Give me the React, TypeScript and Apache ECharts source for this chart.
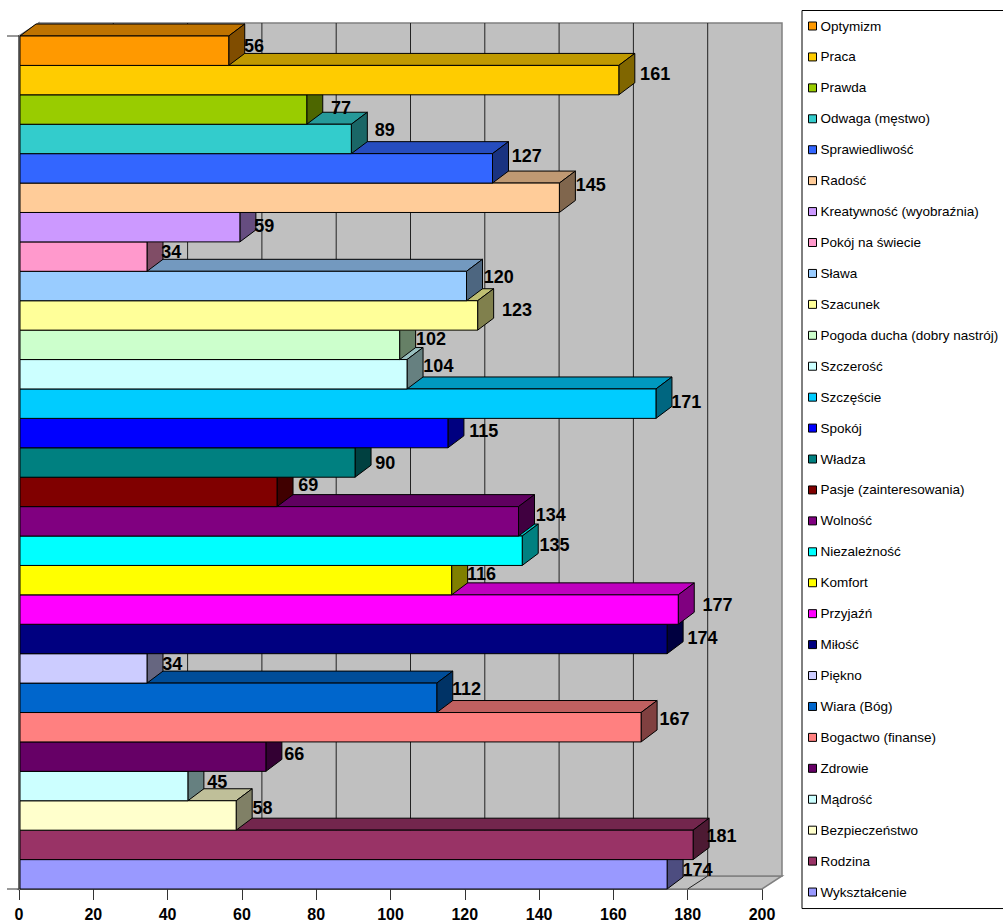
import React, { useEffect, useRef } from "react";
import * as echarts from "echarts";

const categories = [
  "Optymizm", "Praca", "Prawda", "Odwaga (męstwo)", "Sprawiedliwość", "Radość",
  "Kreatywność (wyobraźnia)", "Pokój na świecie", "Sława", "Szacunek",
  "Pogoda ducha (dobry nastrój)", "Szczerość", "Szczęście", "Spokój", "Władza",
  "Pasje (zainteresowania)", "Wolność", "Niezależność", "Komfort", "Przyjaźń",
  "Miłość", "Piękno", "Wiara (Bóg)", "Bogactwo (finanse)", "Zdrowie", "Mądrość",
  "Bezpieczeństwo", "Rodzina", "Wykształcenie",
];
const values = [
  56, 161, 77, 89, 127, 145, 59, 34, 120, 123, 102, 104, 171, 115, 90, 69, 134,
  135, 116, 177, 174, 34, 112, 167, 66, 45, 58, 181, 174,
];
const colors = [
  "#FF9900", "#FFCC00", "#99CC00", "#33CCCC", "#3366FF", "#FFCC99", "#CC99FF",
  "#FF99CC", "#99CCFF", "#FFFF99", "#CCFFCC", "#CCFFFF", "#00CCFF", "#0000FF",
  "#008080", "#800000", "#800080", "#00FFFF", "#FFFF00", "#FF00FF", "#000080",
  "#CCCCFF", "#0066CC", "#FF8080", "#660066", "#CCFFFF", "#FFFFCC", "#993366",
  "#9999FF",
];
const xTicks = [0, 20, 40, 60, 80, 100, 120, 140, 160, 180, 200];

// Placement of each value label relative to the end of its bar (pixels).
const labelDx = [16, 22, 25, 24, 20, 17, 15, 15, 18, 25, 17, 17, 16, 22, 21, 22, 18, 18, 16, 25, 21, 16, 16, 19, 19, 20, 17, 14, 16];
const labelDy = [-5, -7, -2, -9, -13, -13, -2, -5, -10, -6, -6, -9, -2, -3, 0, -7, -7, -6, -7, -5, -1, -5, -9, -9, -3, -5, -8, -9, -5];

const BAR_DX = 16;
const BAR_DY = 12;
const WALL_DX = 20;
const WALL_DY = 13;

function shade(hex: string, f: number) {
  const n = parseInt(hex.slice(1), 16);
  const r = Math.round(((n >> 16) & 255) * f);
  const g = Math.round(((n >> 8) & 255) * f);
  const b = Math.round((n & 255) * f);
  return `rgb(${r},${g},${b})`;
}

const edge = { stroke: "#000", lineWidth: 1 };

function renderBar(color: string) {
  return (_p: any, api: any) => {
    const idx = api.value(1);
    const end = api.coord([api.value(0), idx]);
    const start = api.coord([0, idx]);
    const h = api.size([0, 1])[1];
    const x0 = start[0] + 1;
    const xe = end[0] + 1.7;
    const yt = end[1] - h / 2;
    const yb = end[1] + h / 2;
    return {
      type: "group",
      silent: true,
      children: [
        {
          type: "polygon",
          shape: { points: [[x0, yt], [x0 + BAR_DX, yt - BAR_DY], [xe + BAR_DX, yt - BAR_DY], [xe, yt]] },
          style: { fill: shade(color, 0.75), ...edge },
        },
        {
          type: "polygon",
          shape: { points: [[xe, yt], [xe + BAR_DX, yt - BAR_DY], [xe + BAR_DX, yb - BAR_DY], [xe, yb]] },
          style: { fill: shade(color, 0.5), ...edge },
        },
        {
          type: "rect",
          shape: { x: x0, y: yt, width: xe - x0, height: yb - yt },
          style: { fill: color, ...edge },
        },
      ],
    };
  };
}

function renderWall(_p: any, api: any) {
  const n = categories.length;
  const h = api.size([0, 1])[1];
  const left = api.coord([0, 0])[0];
  const right = api.coord([200, 0])[0];
  const top = api.coord([0, 0])[1] - h / 2;
  const bottom = api.coord([0, n - 1])[1] + h / 2;
  const wall = { fill: "#C0C0C0", stroke: "#808080", lineWidth: 1.5 };
  const children: any[] = [
    {
      type: "polygon",
      shape: { points: [[left, top], [left + WALL_DX, top - WALL_DY], [left + WALL_DX, bottom - WALL_DY], [left, bottom]] },
      style: wall,
    },
    {
      type: "polygon",
      shape: { points: [[left, bottom], [left + WALL_DX, bottom - WALL_DY], [right + WALL_DX, bottom - WALL_DY], [right, bottom]] },
      style: wall,
    },
    {
      type: "rect",
      shape: { x: left + WALL_DX, y: top - WALL_DY, width: right - left, height: bottom - top },
      style: wall,
    },
  ];
  xTicks.slice(1, -1).forEach((t) => {
    const x = api.coord([t, 0])[0];
    children.push({
      type: "polyline",
      shape: { points: [[x + WALL_DX, top - WALL_DY], [x + WALL_DX, bottom - WALL_DY], [x, bottom]] },
      style: { fill: "none", stroke: "#222", lineWidth: 1 },
    });
  });
  [top, bottom].forEach((y) => {
    children.push({
      type: "line",
      shape: { x1: left - 12, y1: y, x2: left, y2: y },
      style: { stroke: "#333", lineWidth: 1 },
    });
  });
  return { type: "group", silent: true, children };
}

function renderLabel(_p: any, api: any) {
  const idx = api.value(1);
  const v = api.value(0);
  const c = api.coord([v, idx]);
  return {
    type: "text",
    silent: true,
    x: c[0] + labelDx[idx] + 1,
    y: c[1] + labelDy[idx] + 0.5,
    style: {
      text: String(v),
      fill: "#000",
      font: "bold 18px 'Liberation Sans', Arial, sans-serif",
      align: "left",
      verticalAlign: "middle",
    },
  };
}

export default function App() {
  const ref = useRef<HTMLDivElement>(null);
  useEffect(() => {
    const chart = echarts.init(ref.current!, undefined, { renderer: "svg" });
    const barSeries = categories
      .map((name, i) => ({
        type: "custom",
        name,
        silent: true,
        clip: false,
        renderItem: renderBar(colors[i]),
        itemStyle: { color: colors[i] },
        data: [[values[i], i]],
      }))
      .reverse();
    chart.setOption({
      animation: false,
      backgroundColor: "#fff",
      grid: { left: 19, top: 36, width: 743, height: 853, containLabel: false, outerBoundsMode: "none" },
      xAxis: {
        type: "value",
        min: 0,
        max: 200,
        interval: 20,
        position: "bottom",
        axisLine: { show: true, onZero: false, lineStyle: { color: "#333", width: 1.5 } },
        axisTick: { show: true, length: 11, lineStyle: { color: "#333", width: 1 } },
        splitLine: { show: false },
        axisLabel: {
          color: "#000",
          fontFamily: "'Liberation Sans', Arial, sans-serif",
          fontWeight: "bold",
          fontSize: 16,
          lineHeight: 12,
          margin: 19,
          hideOverlap: false,
        },
      },
      yAxis: {
        type: "category",
        inverse: true,
        data: categories,
        axisLine: { show: true, onZero: false, lineStyle: { color: "#333", width: 2 } },
        axisTick: { show: false },
        axisLabel: { show: false },
        splitLine: { show: false },
      },
      legend: {
        orient: "vertical",
        left: 802,
        top: 10.5,
        padding: [8.5, 30, 9.5, 6],
        itemWidth: 8,
        itemHeight: 8,
        itemGap: 16.93,
        align: "left",
        selectedMode: false,
        backgroundColor: "#fff",
        borderColor: "#000",
        borderWidth: 1,
        textStyle: {
          color: "#000",
          fontSize: 13.5,
          lineHeight: 14,
          fontFamily: "'Liberation Sans', Arial, sans-serif",
          padding: [0, 0, 0, -1],
        },
        data: categories.map((name, i) => ({
          name,
          icon: "rect",
          itemStyle: { color: colors[i], borderColor: "#000", borderWidth: 1 },
        })),
      },
      series: [
        { type: "custom", silent: true, clip: false, renderItem: renderWall, data: [[0, 0]] },
        ...barSeries,
        {
          type: "custom",
          silent: true,
          clip: false,
          renderItem: renderLabel,
          data: values.map((v, i) => [v, i]),
        },
      ],
    });
    return () => chart.dispose();
  }, []);
  return <div ref={ref} style={{ position: "absolute", left: 0, top: 0, width: 1003, height: 921 }} />;
}
